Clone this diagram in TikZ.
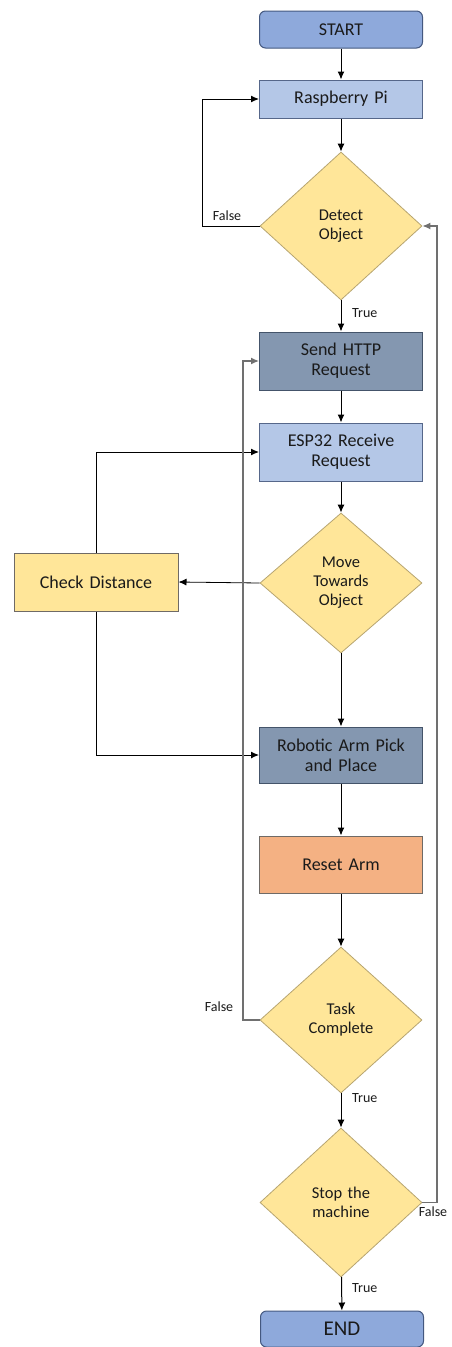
\documentclass[tikz,border=0pt]{standalone}
\usepackage{fontspec}
\setmainfont{Carlito}
\usetikzlibrary{shapes.geometric,arrows.meta,calc}
\definecolor{termfill}{HTML}{8EA9DB}
\definecolor{termdraw}{HTML}{44587F}
\definecolor{lbfill}{HTML}{B4C7E7}
\definecolor{lbdraw}{HTML}{56678A}
\definecolor{slfill}{HTML}{8497B0}
\definecolor{sldraw}{HTML}{44546A}
\definecolor{orfill}{HTML}{F4B183}
\definecolor{ordraw}{HTML}{6F6A66}
\definecolor{yefill}{HTML}{FFE699}
\definecolor{yedraw}{HTML}{B7A571}
\definecolor{loopgray}{HTML}{707070}
\definecolor{txt}{HTML}{1A1A1A}
\tikzset{
  box/.style={rectangle, minimum width=163pt, inner sep=0pt, line width=1pt, text width=158pt, align=center, font=\fontsize{18}{20}\selectfont, text=txt},
  term/.style={box, rounded corners=6pt, fill=termfill, draw=termdraw},
  lightbox/.style={box, fill=lbfill, draw=lbdraw},
  slatebox/.style={box, fill=slfill, draw=sldraw},
  orangebox/.style={box, fill=orfill, draw=ordraw},
  checkbox/.style={box, minimum width=164pt, fill=yefill, draw=ordraw},
  decision/.style={diamond, fill=yefill, draw=yedraw, line width=0.8pt, inner sep=0pt, minimum width=162pt, text width=84pt, align=center, font=\fontsize{16.5}{19}\selectfont, text=txt},
  flow/.style={-{Latex[length=8pt,width=7pt]}, line width=1pt, black},
  loopflow/.style={-{Latex[length=8pt,width=7pt]}, line width=1.3pt, loopgray},
  lbl/.style={font=\fontsize{14}{16}\selectfont, text=txt, inner sep=0pt}
}
\begin{document}
\begin{tikzpicture}[x=1pt,y=-1pt]
\useasboundingbox (0,0) rectangle (451,1347);
\node[term, minimum height=37pt] (start) at (341,29.5) {START};
\node[lightbox, minimum height=38pt] (rpi) at (341,99) {Raspberry Pi};
\node[decision, minimum height=148pt] (detect) at (341,226) {Detect\\Object};
\node[slatebox, minimum height=58pt] (http) at (341,361) {Send HTTP\\Request};
\node[lightbox, minimum height=58pt] (esp) at (341,452) {ESP32 Receive\\Request};
\node[decision, minimum height=140pt] (move) at (341,583) {Move\\Towards\\Object};
\node[checkbox, minimum height=58pt] (check) at (96,582) {Check Distance};
\node[slatebox, minimum height=56pt] (robot) at (341,755) {Robotic Arm Pick\\and Place};
\node[orangebox, minimum height=57pt] (reset) at (341,864.5) {Reset Arm};
\node[decision, minimum height=146pt] (task) at (341,1020) {Task\\Complete};
\node[decision, minimum height=149pt] (stop) at (341,1202.5) {Stop the\\machine};
\node[term, minimum height=36pt] (end) at (342,1329) {\fontsize{21}{23}\selectfont END};

\draw[flow] (start) -- (rpi);
\draw[flow] (rpi) -- (detect);
\draw[flow] (detect) -- (http);
\draw[flow] (http) -- (esp);
\draw[flow] (esp) -- (move);
\draw[flow] (move) -- (robot);
\draw[flow] (robot) -- (reset);
\draw[flow] (reset) -- (task);
\draw[flow] (task) -- (stop);
\draw[flow] (stop) -- (end);

\coordinate (fl1) at (202,226);
\draw[flow] (detect.west) -- (fl1) |- (rpi.west);
\draw[flow, line width=0.8pt] (move.west) -- (check.east);
\draw[flow] (check.north) |- (esp.west);
\draw[flow] (check.south) |- (robot.west);
\coordinate (fl2) at (243,1020);
\draw[loopflow] (task.west) -- (fl2) |- (http.west);
\coordinate (fl3) at (437,1202.5);
\draw[loopflow] (stop.east) -- (fl3) |- (detect.east);

\node[lbl] (tf1) at (227,216) {False};
\node[lbl, anchor=west] (tt1) at (352,313) {True};
\node[lbl] (tf2) at (219,1007) {False};
\node[lbl, anchor=west] (tt2) at (352,1098) {True};
\node[lbl] (tf3) at (433,1212) {False};
\node[lbl, anchor=west] (tt3) at (352,1288) {True};
\end{tikzpicture}
\end{document}
